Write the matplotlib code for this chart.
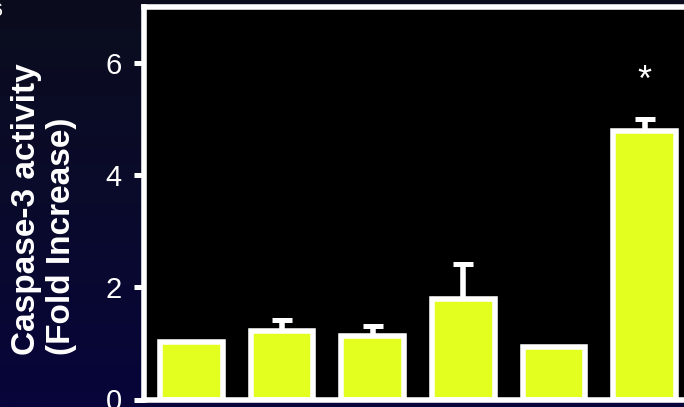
import numpy as np
import matplotlib
matplotlib.use("Agg")
import matplotlib.pyplot as plt
from matplotlib.colors import LinearSegmentedColormap

# Caspase-3 activity, fold increase over control, six treatment groups
groups = ["G1", "G2", "G3", "G4", "G5", "G6"]
fold_increase = [1.03, 1.22, 1.13, 1.80, 0.94, 4.79]
sem_upper = [0.0, 0.20, 0.18, 0.62, 0.0, 0.21]
significant = [False, False, False, False, False, True]
y_ticks = [0, 2, 4, 6]

W, H = 684, 407
fig = plt.figure(figsize=(W / 100, H / 100), dpi=100)

# dark navy backdrop, darker at the top
bg = fig.add_axes([0, 0, 1, 1], zorder=0)
cmap = LinearSegmentedColormap.from_list("navy", ["#0b0d1d", "#0a0a2c", "#07053a"])
grad = np.linspace(0, 1, 256).reshape(-1, 1)
bg.imshow(grad, aspect="auto", cmap=cmap, extent=[0, 1, 0, 1], origin="upper")
bg.set_axis_off()

font = "Liberation Sans"

left_px, zero_px, top_px = 143.7, 399.5, 7.0
x_lo, x_hi = -0.528, 5.5
right_px = 191.5 + x_hi * 90.6
ax = fig.add_axes([left_px / W, (H - zero_px) / H,
                   (right_px - left_px) / W, (zero_px - top_px) / H], zorder=1)
ax.set_facecolor("black")

x = np.arange(len(groups))
ax.bar(x, fold_increase, width=0.69, color="#e3ff1f", edgecolor="white",
       linewidth=4, zorder=2)

err = np.array(sem_upper)
mask = err > 0
ax.errorbar(x[mask], np.array(fold_increase)[mask],
            yerr=[np.zeros(mask.sum()), err[mask]], fmt="none",
            ecolor="white", elinewidth=4, capsize=7, capthick=3.6, zorder=1.5)

for xi, v, e, s in zip(x, fold_increase, sem_upper, significant):
    if s:
        ax.text(xi, v + e + 0.50, "*", ha="center", va="baseline",
                color="white", fontsize=26, family=font)

ax.set_xlim(x_lo, x_hi)
ax.set_ylim(0, 7.0)
ax.set_xticks([])
ax.set_yticks(y_ticks)
ax.set_yticklabels([str(t) for t in y_ticks], fontsize=21, family=font,
                   color="white")
ax.tick_params(axis="y", direction="out", length=7.2, width=3.6,
               color="white", pad=8.6)
for sp in ax.spines.values():
    sp.set_color("white")
    sp.set_linewidth(4)

fig.text(44 / W, (H - 209) / H, "Caspase-3 activity\n(Fold Increase)",
         rotation=90, ha="center", va="center", multialignment="left",
         fontsize=24, fontweight="bold", family=font, color="white",
         linespacing=1.15)

fig.text(3 / W, 1 - 3 / H, "6", ha="right", va="top", fontsize=14,
         family=font, color="white")

fig.savefig("out.png", dpi=100, facecolor=fig.get_facecolor())
